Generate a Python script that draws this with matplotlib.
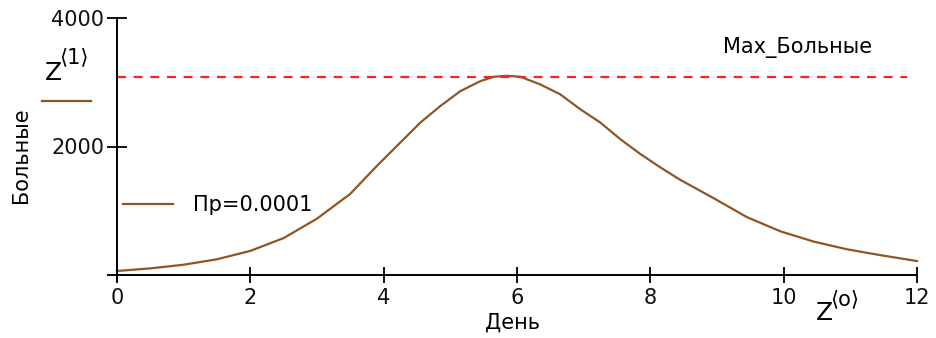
import matplotlib
matplotlib.use('Agg')
import matplotlib.pyplot as plt
from matplotlib.lines import Line2D

plt.rcParams['font.family'] = ['DejaVu Sans']

days = [0, 0.5, 1.0, 1.5, 2.0, 2.5, 3.0, 3.5, 3.9, 4.25, 4.55, 4.85, 5.15,
        5.45, 5.65, 5.85, 6.05, 6.35, 6.65, 6.95, 7.25, 7.55, 7.85, 8.15,
        8.45, 8.75, 8.95, 9.45, 9.95, 10.45, 10.95, 11.45, 12.0]
sick = [62, 103, 160, 245, 375, 575, 877, 1264, 1700, 2062, 2372, 2630, 2862,
        3017, 3085, 3100, 3085, 2966, 2811, 2579, 2372, 2114, 1883, 1675,
        1480, 1310, 1195, 900, 680, 520, 400, 309, 217]
max_sick = 3075
xticks = [0, 2, 4, 6, 8, 10, 12]
yticks = [2000, 4000]

W, H = 937, 338
fig = plt.figure(figsize=(W / 100, H / 100), dpi=100)

def px(x, y):
    return x / W, 1 - y / H

x0, x1 = 117, 917
y0, y4000 = 275, 18
ax = fig.add_axes([x0 / W, (H - y0) / H, (x1 - x0) / W, (y0 - y4000) / H])
ax.set_xlim(0, 12)
ax.set_ylim(0, 4000)
ax.patch.set_visible(False)

brown = '#8f5624'
ax.plot(days, sick, color=brown, lw=1.6, clip_on=False)
ax.plot([0, 11.85], [max_sick, max_sick], color='#ff2020', lw=1.6,
        dashes=(4, 3.5), clip_on=False)

for s in ['top', 'right']:
    ax.spines[s].set_visible(False)
ax.spines['left'].set_bounds(-100, 4000)
ax.spines['bottom'].set_bounds(-0.13, 12)
for s in ['left', 'bottom']:
    ax.spines[s].set_linewidth(1.4)
ax.set_xticks(xticks)
ax.set_yticks(yticks)
ax.tick_params(direction='inout', length=12, width=1.4, labelsize=15, pad=3,
               colors='#111111')
ax.tick_params(axis='y', length=14, pad=2)

# axis titles
fig.text(*px(513, 323), 'День', fontsize=15, ha='center', va='center')
fig.text(*px(21, 155), 'Больные', fontsize=15, ha='center', va='center',
         rotation=90)

# mathcad-style expression labels
fig.text(*px(53, 73), 'Z', fontsize=18, ha='center', va='center')
fig.text(*px(74, 57), '⟨1⟩', fontsize=15, ha='center', va='center')
fig.add_artist(Line2D([42 / W, 91 / W], [1 - 101 / H] * 2, color=brown, lw=1.6))
fig.text(*px(824, 313), 'Z', fontsize=18, ha='center', va='center')
fig.text(*px(845, 299), '⟨o⟩', fontsize=15, ha='center', va='center')

# legend / annotations
fig.add_artist(Line2D([123 / W, 173 / W], [1 - 204 / H] * 2, color=brown, lw=1.6))
fig.text(*px(193, 205), 'Пр=0.0001', fontsize=15, ha='left', va='center')
fig.text(*px(798, 48), 'Max_Больные', fontsize=15, ha='center', va='center')

fig.savefig('out.png', dpi=100, facecolor='white')
